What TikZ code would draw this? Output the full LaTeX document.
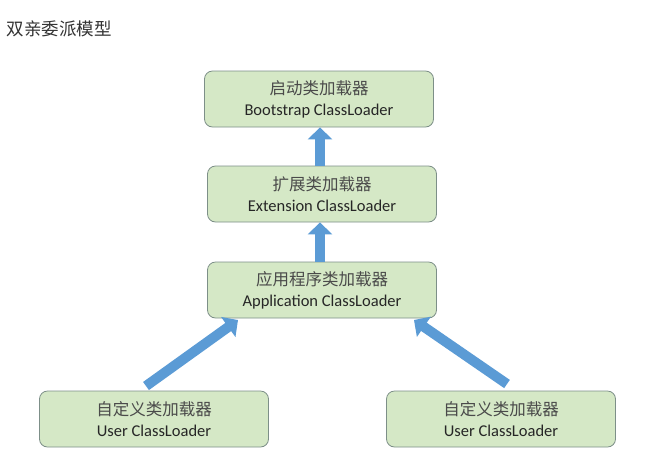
\documentclass[tikz,border=0pt]{standalone}
\usepackage{fontspec}
\setmainfont{Carlito}
\newfontfamily\cjk{Noto Sans CJK SC}
\usetikzlibrary{arrows.meta}
\definecolor{boxgreen}{HTML}{D5E8C6}
\definecolor{boxedge}{HTML}{7D8F88}
\definecolor{arrowblue}{HTML}{5B9BD5}
\definecolor{cjkgray}{HTML}{4A4A4A}
\newcommand{\shaft}{10pt}
\newcommand{\ldtext}[2]{{\cjk\fontsize{16.5}{21}\selectfont\color{cjkgray}#1}\\#2}
\tikzset{
    loader/.style={draw=boxedge, fill=boxgreen, line width=0.8pt, rounded corners=8pt,
        minimum width=229pt, minimum height=56pt, align=center,
        font=\fontsize{16.5}{21}\selectfont, text=black!85},
    upto/.style={arrowblue, line width=\shaft, -{Triangle[length=12pt,width=24pt]}}
}

\begin{document}
\begin{tikzpicture}[x=1pt,y=-1pt]
    \useasboundingbox (0,0) rectangle (658,464);
    \node[anchor=west, font=\cjk\fontsize{17.5}{20}\selectfont, text=black!80] (title) at (3,29) {双亲委派模型};

    \node[loader] (boot) at (319,99) {\ldtext{启动类加载器}{Bootstrap ClassLoader}};
    \node[loader] (ext) at (322,194) {\ldtext{扩展类加载器}{Extension ClassLoader}};
    \node[loader] (app) at (322,290) {\ldtext{应用程序类加载器}{Application ClassLoader}};
    \node[loader] (userl) at (154,419) {\ldtext{自定义类加载器}{User ClassLoader}};
    \node[loader] (userr) at (501,419) {\ldtext{自定义类加载器}{User ClassLoader}};

    %Arrow ends:
    \coordinate (ltail) at (146,386);
    \coordinate (lhead) at (238,320);
    \coordinate (rtail) at (507,384);
    \coordinate (rhead) at (414,320);

    \draw[upto] (ext.north -| 320,0) -- (boot.south -| 320,0);
    \draw[upto] (app.north -| 320,0) -- (ext.south -| 320,0);
    \draw[upto] (ltail) -- (lhead);
    \draw[upto] (rtail) -- (rhead);
\end{tikzpicture}
\end{document}
